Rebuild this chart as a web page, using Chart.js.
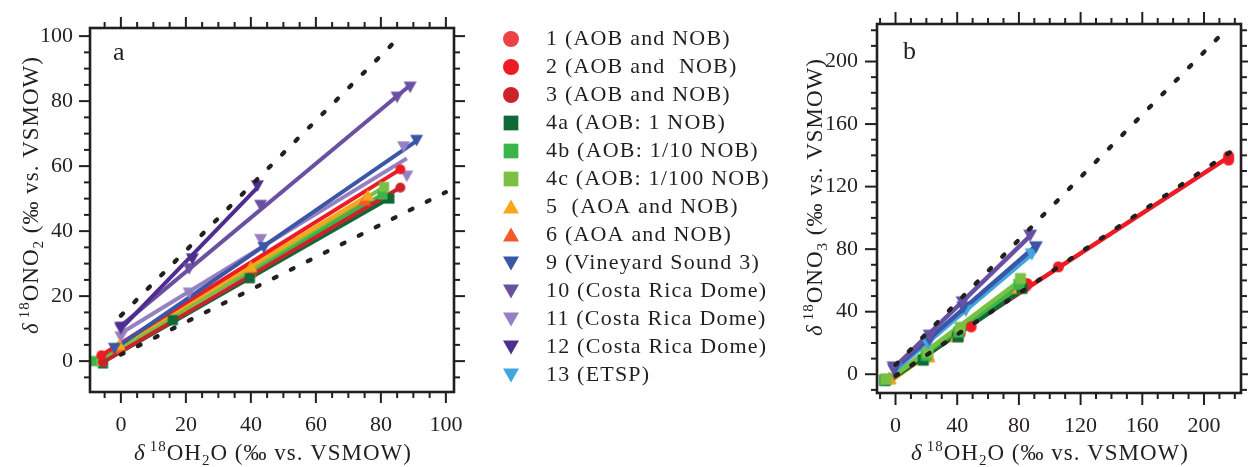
<!DOCTYPE html>
<html>
<head>
<meta charset="utf-8">
<script src="https://cdn.jsdelivr.net/npm/chart.js@4.4.1/dist/chart.umd.min.js"></script>
<style>
  body { margin: 0; background: #fff; width: 1248px; height: 467px; position: relative; overflow: hidden; }
  canvas { position: absolute; top: 0; }
</style>
</head>
<body>
<canvas id="legendBox" width="640" height="467" style="left:481px"></canvas>
<canvas id="chartA" width="470" height="467" style="left:0"></canvas>
<canvas id="chartB" width="458" height="467" style="left:790px"></canvas>
<script>
// series (legend order)
const labels = ['1 (AOB and NOB)', '2 (AOB and  NOB)', '3 (AOB and NOB)', '4a (AOB: 1 NOB)',
  '4b (AOB: 1/10 NOB)', '4c (AOB: 1/100 NOB)', '5  (AOA and NOB)', '6 (AOA and NOB)',
  '9 (Vineyard Sound 3)', '10 (Costa Rica Dome)', '11 (Costa Rica Dome)', '12 (Costa Rica Dome)', '13 (ETSP)'];
const colors = ['#ec4246', '#ed1c24', '#cc2229', '#0f6937', '#39b54a', '#7ac143', '#faa61a', '#f15a29',
  '#3a56a6', '#6a50a3', '#9580c1', '#4f2d8f', '#42a5df'];
const shapes = ['circle', 'circle', 'circle', 'square', 'square', 'square', 'up', 'up',
  'down', 'down', 'down', 'down', 'down'];

// panel a: d18O-H2O vs d18O-NO2
const aH2O = [[], [-6, 86], [-5.5, 86], [-5.5, 16, 39.7, 82.6], [-8, 80.5], [-6, 81],
  [-0.5, 40, 76], [-1, 40, 75], [-2, 44, 91], [0, 21, 43, 85, 89], [0, 21, 43, 87, 88], [0, 22, 42], []];
const aNO2 = [[], [1.8, 59], [-0.3, 53.4], [-0.7, 12.6, 25.5, 50], [0, 51.3], [0, 53.6],
  [5, 29, 51], [4, 27.5, 49.5], [4, 35, 68], [10, 28.5, 48, 81.3, 84.4], [7.5, 21, 37.5, 66, 57], [10.5, 31.5, 54], []];
const aUpperX = [0, 86], aUpperY = [14, 100];
const aLowerX = [0, 100], aLowerY = [2, 52];

// panel b: d18O-H2O vs d18O-NO3
const bH2O = [[-5, 42, 85], [-5.3, 49, 85.3, 105.6, 216, 216], [-5, 40, 83], [-7, 18, 40.5, 82],
  [-7, 20, 41, 80], [-6, 21, 42, 81], [-4, 21.3, 39.5, 80], [-4, 21, 40, 80],
  [-1, 22, 44, 91], [-1.3, 22.2, 43.5, 87.3], [], [], [0, 21, 45.6, 88.3]];
const bNO3 = [[-3.5, 26, 56.5], [-3.8, 30.3, 58, 68.7, 139.5, 137], [-3.5, 25, 55], [-4, 9, 24, 55],
  [-3.5, 12, 27, 57.5], [-3, 14, 30, 61.2], [-3, 11, 23.9, 55], [-2.5, 12, 25, 56],
  [3, 22.5, 43, 81.5], [4.7, 25, 46.3, 89], [], [], [3.6, 19.6, 41, 77]];
const bUpperX = [0, 214], bUpperY = [6, 220];
const bLowerX = [0, 220], bLowerY = [-1, 144];

// drawing order, top first
const rankA = [11, 9, 8, 1, 2, 6, 5, 4, 3, 10, 7, 0, 12];
const rankB = [9, 8, 12, 5, 4, 3, 6, 7, 1, 2, 0, 10, 11];

const INK = '#231f20';
const SERIF = "'Liberation Serif', 'Times New Roman', serif";

function marker(shape, color, size) {
  const c = document.createElement('canvas');
  c.width = c.height = Math.ceil(size) + 2;
  const g = c.getContext('2d');
  const m = c.width / 2, h = size / 2;
  g.fillStyle = color;
  g.beginPath();
  if (shape === 'circle') g.arc(m, m, h, 0, 2 * Math.PI);
  else if (shape === 'square') g.rect(m - h * 0.92, m - h * 0.92, size * 0.92, size * 0.92);
  else if (shape === 'up') { g.moveTo(m - h, m + h * 0.8); g.lineTo(m + h, m + h * 0.8); g.lineTo(m, m - h * 0.95); }
  else { g.moveTo(m - h, m - h * 0.8); g.lineTo(m + h, m - h * 0.8); g.lineTo(m, m + h * 0.95); }
  g.closePath();
  g.fill();
  return c;
}

function fitLine(xs, ys) {
  const n = xs.length;
  const mx = xs.reduce((s, v) => s + v, 0) / n;
  const my = ys.reduce((s, v) => s + v, 0) / n;
  let sxy = 0, sxx = 0;
  xs.forEach((x, i) => { sxy += (x - mx) * (ys[i] - my); sxx += (x - mx) * (x - mx); });
  const m = sxy / sxx, b = my - m * mx;
  const x0 = Math.min(...xs), x1 = Math.max(...xs);
  return [{ x: x0, y: b + m * x0 }, { x: x1, y: b + m * x1 }];
}

function buildSets(xs, ys, rank, dots, size, lw) {
  const sets = [];
  dots.forEach(([dx, dy]) => sets.push({
    data: dx.map((x, i) => ({ x, y: dy[i] })), showLine: true, pointRadius: 0,
    borderColor: INK, borderWidth: 4.3, borderDash: [3, 16], borderCapStyle: 'round', order: 0
  }));
  xs.forEach((xv, s) => {
    if (!xv.length) return;
    const r = rank.indexOf(s);
    sets.push({
      data: fitLine(xv, ys[s]), showLine: true, pointRadius: 0,
      borderColor: colors[s], borderWidth: lw, order: 40 + r
    });
    sets.push({
      data: xv.map((x, i) => ({ x, y: ys[s][i] })), showLine: false,
      pointStyle: marker(shapes[s], colors[s], shapes[s] === 'circle' ? size - 1 : size + (shapes[s] === 'square' ? 0 : 2)),
      pointRadius: 6, backgroundColor: colors[s], order: 10 + r
    });
  });
  return sets;
}

function axis(min, max, step, isX, pad, size) {
  return {
    type: 'linear', min, max,
    grid: { display: false, drawTicks: false },
    border: { display: false },
    ticks: {
      stepSize: step, includeBounds: false, padding: pad, color: INK, maxRotation: 0, autoSkip: false,
      font: { family: SERIF, size: 22 },
      callback: v => (v % step === 0 ? v : '')
    },
    afterFit: s => {
      if (isX) s.height = size; else s.width = size;
      s.paddingLeft = s.paddingRight = s.paddingTop = s.paddingBottom = 0;
    }
  };
}

function drawRich(ctx, parts, size) {
  const segs = parts.map(p => ({
    t: p.t || '', gap: p.gap || 0, dy: (p.dy || 0) * size,
    font: `${p.it ? 'italic ' : ''}${Math.round(size * (p.s || 1))}px ${SERIF}`
  }));
  let w = 0;
  segs.forEach(g => { ctx.font = g.font; g.w = ctx.measureText(g.t).width + g.gap; w += g.w; });
  let x = -w / 2;
  segs.forEach(g => { ctx.font = g.font; ctx.fillText(g.t, x + g.gap, g.dy); x += g.w; });
}

function titleParts(mid, sub, tail) {
  return [{ t: 'δ', it: true }, { t: '18', s: 0.64, dy: -0.4, gap: 4 }, { t: mid },
    { t: sub, s: 0.64, dy: 0.22 }, { t: tail }];
}

function framePlugin(cfg) {
  return {
    id: 'frame',
    afterDraw(chart) {
      const { ctx, chartArea: a } = chart;
      const sx = chart.scales.x, sy = chart.scales.y;
      ctx.save();
      ctx.strokeStyle = INK;
      ctx.lineCap = 'butt';
      ctx.lineWidth = 2;
      const seg = (x0, y0, x1, y1) => { ctx.beginPath(); ctx.moveTo(x0, y0); ctx.lineTo(x1, y1); ctx.stroke(); };
      for (let i = Math.ceil(sx.min / cfg.minor); i * cfg.minor <= sx.max; i++) {
        const v = i * cfg.minor, px = sx.getPixelForValue(v);
        const L = v % cfg.major === 0 ? cfg.bigLen : cfg.smallLen;
        seg(px, a.bottom, px, a.bottom + L);
        seg(px, a.top, px, a.top - L);
      }
      for (let i = Math.ceil(sy.min / cfg.minor); i * cfg.minor <= sy.max; i++) {
        const v = i * cfg.minor, py = sy.getPixelForValue(v);
        const L = v % cfg.major === 0 ? cfg.bigLen : cfg.smallLen;
        seg(a.left, py, a.left - L, py);
        seg(a.right, py, a.right + L, py);
      }
      ctx.lineWidth = 2.6;
      ctx.strokeRect(a.left, a.top, a.right - a.left, a.bottom - a.top);

      ctx.fillStyle = INK;
      ctx.textAlign = 'left';
      ctx.textBaseline = 'alphabetic';
      ctx.font = `26px ${SERIF}`;
      ctx.fillText(cfg.tag, cfg.tagX, cfg.tagY);

      ctx.letterSpacing = '1px';
      ctx.save();
      ctx.translate(cfg.xTitleX, cfg.xTitleY);
      drawRich(ctx, titleParts('OH', '2', 'O (‰ vs. VSMOW)'), 23);
      ctx.restore();
      ctx.save();
      ctx.translate(cfg.yTitleX, cfg.yTitleY);
      ctx.rotate(-Math.PI / 2);
      drawRich(ctx, titleParts('ONO', cfg.ySub, ' (‰ vs. VSMOW)'), 23);
      ctx.restore();
      ctx.restore();
    }
  };
}

new Chart(document.getElementById('chartA'), {
  type: 'scatter',
  data: { datasets: buildSets(aH2O, aNO2, rankA, [[aUpperX, aUpperY], [aLowerX, aLowerY]], 11, 4) },
  options: {
    responsive: false, animation: false, events: [],
    layout: { padding: { left: 30, right: 16, top: 28, bottom: 30 } },
    scales: {
      x: axis(-9.5, 102.5, 20, true, 20, 45),
      y: axis(-9.5, 102.5, 20, false, 17, 60)
    },
    plugins: { legend: { display: false }, tooltip: { enabled: false } }
  },
  plugins: [framePlugin({
    minor: 5, major: 20, bigLen: 11, smallLen: 6, tag: 'a', tagX: 113, tagY: 60,
    xTitleX: 273, xTitleY: 460, yTitleX: 38, yTitleY: 195, ySub: '2'
  })]
});

new Chart(document.getElementById('chartB'), {
  type: 'scatter',
  data: { datasets: buildSets(bH2O, bNO3, rankB, [[bUpperX, bUpperY], [bLowerX, bLowerY]], 12, 4.5) },
  options: {
    responsive: false, animation: false, events: [],
    layout: { padding: { left: 32, right: 3, top: 24, bottom: 29 } },
    scales: {
      x: axis(-12, 224, 40, true, 20, 45),
      y: axis(-12, 224, 40, false, 19, 55)
    },
    plugins: { legend: { display: false }, tooltip: { enabled: false } }
  },
  plugins: [framePlugin({
    minor: 10, major: 40, bigLen: 12, smallLen: 6, tag: 'b', tagX: 113, tagY: 59,
    xTitleX: 260, xTitleY: 460, yTitleX: 32, yTitleY: 197, ySub: '3'
  })]
});

// legend only (letter spacing set before layout so the box is measured wide enough)
const legendMarks = shapes.map((s, i) => marker(s, colors[i], 16));
const spacing = {
  id: 'spacing',
  beforeUpdate(chart) { chart.ctx.letterSpacing = '1.2px'; },
  beforeLayout(chart) { chart.ctx.letterSpacing = '1.2px'; },
  beforeDraw(chart) { chart.ctx.letterSpacing = '1.2px'; }
};
new Chart(document.getElementById('legendBox'), {
  type: 'scatter',
  data: { datasets: [] },
  options: {
    responsive: false, animation: false, events: [],
    layout: { padding: { top: 22 } },
    scales: { x: { display: false }, y: { display: false } },
    plugins: {
      tooltip: { enabled: false },
      legend: {
        position: 'left', align: 'start',
        labels: {
          usePointStyle: true, pointStyleWidth: 48, padding: 6, color: INK,
          font: { family: SERIF, size: 22 },
          generateLabels: () => labels.map((t, i) => ({
            text: t, pointStyle: legendMarks[i], fillStyle: colors[i], strokeStyle: colors[i],
            fontColor: INK, lineWidth: 0, hidden: false, datasetIndex: i
          }))
        }
      }
    }
  },
  plugins: [spacing]
});
</script>
</body>
</html>
